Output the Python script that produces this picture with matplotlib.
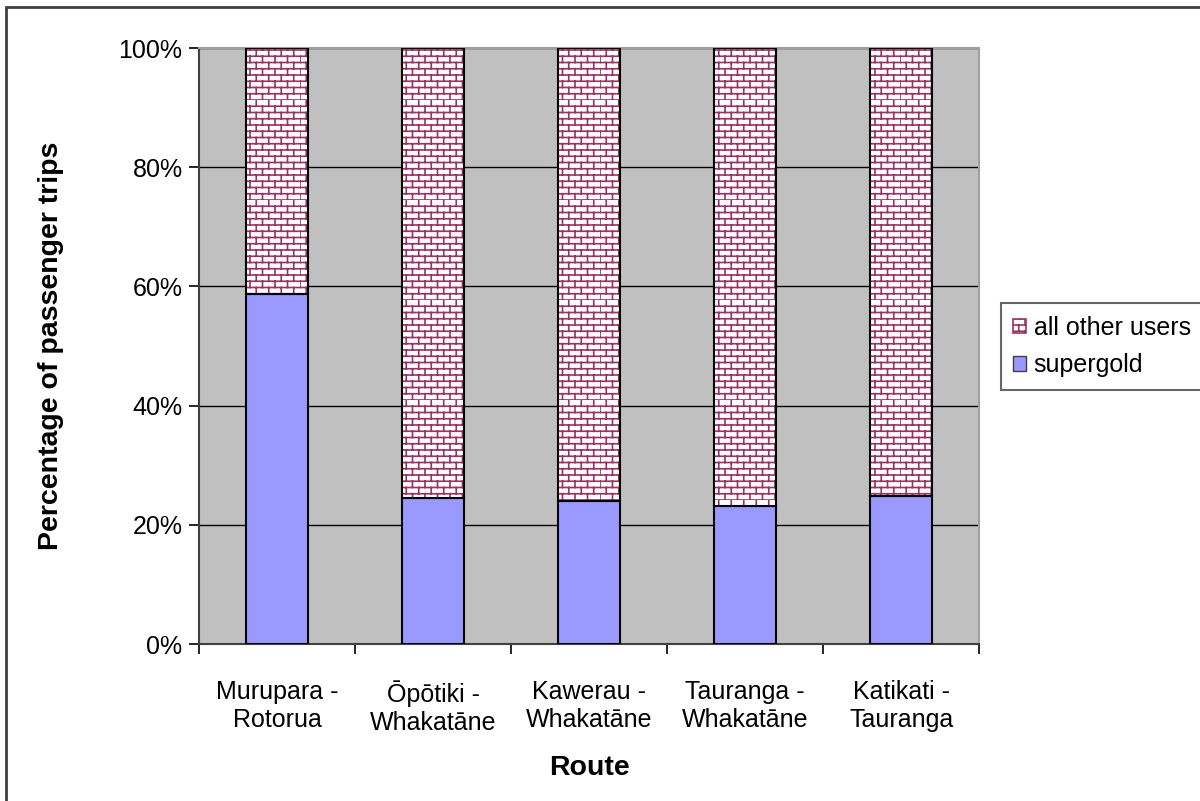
import warnings
import numpy as np
import matplotlib
matplotlib.use("Agg")
import matplotlib.pyplot as plt
import matplotlib.hatch as mhatch
from matplotlib.path import Path
from matplotlib.patches import Patch, Rectangle
from matplotlib.ticker import PercentFormatter, FixedLocator

plt.rcParams['font.family'] = ['Liberation Sans', 'DejaVu Sans']

routes = ["Murupara -\nRotorua", "Ōpōtiki -\nWhakatāne", "Kawerau -\nWhakatāne",
          "Tauranga -\nWhakatāne", "Katikati -\nTauranga"]
supergold = [58.7, 24.5, 24.0, 23.2, 24.8]
other_users = [100 - v for v in supergold]


# brick hatch, like the Excel pattern fill
class BrickHatch(mhatch.HatchPatternBase):
    rows = 16
    cols = 8

    def __init__(self, hatch, density):
        self.on = hatch.count('b') > 0
        self.num_vertices = (self.rows * 2 + self.rows * self.cols * 2) if self.on else 0

    def set_vertices_and_codes(self, vertices, codes):
        k = 0
        for r in range(self.rows):
            y0 = r / self.rows
            y1 = (r + 1) / self.rows
            vertices[k] = (0, y0); vertices[k + 1] = (1, y0)
            codes[k] = Path.MOVETO; codes[k + 1] = Path.LINETO
            k += 2
            shift = 0.5 * (r % 2)
            for c in range(self.cols):
                x = (c + shift) / self.cols
                vertices[k] = (x, y0); vertices[k + 1] = (x, y1)
                codes[k] = Path.MOVETO; codes[k + 1] = Path.LINETO
                k += 2


mhatch._hatch_types.append(BrickHatch)
warnings.filterwarnings("ignore")
plt.rcParams['hatch.linewidth'] = 1.2

fig = plt.figure(figsize=(12, 8.01), dpi=100)
ax = fig.add_axes([0.166, 0.196, 0.650, 0.744])
ax.set_facecolor('#C0C0C0')

x = np.arange(len(routes))
w = 0.40
brick = '#993366'

ax.bar(x, supergold, w, color='#9999FF', edgecolor='black', linewidth=1.5, zorder=3)
ax.bar(x, other_users, w, bottom=supergold, color='white', edgecolor=brick,
       hatch='b', linewidth=0, zorder=3)
ax.bar(x, other_users, w, bottom=supergold, fill=False, edgecolor='black',
       linewidth=1.5, zorder=4)

ax.set_xlim(-0.5, len(routes) - 0.5)
ax.set_ylim(0, 100)
ax.yaxis.set_major_locator(FixedLocator([0, 20, 40, 60, 80, 100]))
ax.yaxis.set_major_formatter(PercentFormatter(decimals=0))
ax.grid(axis='y', color='black', linewidth=1, zorder=1)
ax.set_axisbelow(True)

ax.set_xticks(np.arange(-0.5, len(routes)), labels=[''] * (len(routes) + 1))
ax.set_xticks(x, labels=routes, minor=True)
ax.tick_params(axis='x', which='major', length=7, width=1.2, direction='out')
ax.tick_params(axis='x', which='minor', length=0, pad=26, labelsize=18)
ax.tick_params(axis='y', length=7, width=1.2, direction='out', labelsize=18, pad=5)

for s in ['top', 'right']:
    ax.spines[s].set_color('#A0A0A0')
    ax.spines[s].set_linewidth(1.5)
for s in ['left', 'bottom']:
    ax.spines[s].set_color('#404040')
    ax.spines[s].set_linewidth(1.5)

ax.set_ylabel("Percentage of passenger trips", fontsize=20.5, fontweight='bold', labelpad=39)
ax.set_xlabel("Route", fontsize=20.5, fontweight='bold', labelpad=15)

handles = [Patch(facecolor='white', edgecolor=brick, hatch='b', linewidth=1.2),
           Patch(facecolor='#9999FF', edgecolor='#404040', linewidth=1)]
leg = fig.legend(handles, ["all other users", "supergold"], loc='upper left',
                 bbox_to_anchor=(1001 / 1200, 1 - 303 / 801), fontsize=18,
                 frameon=True, fancybox=False, edgecolor='#404040', handlelength=0.5,
                 handleheight=0.5, handletextpad=0.3, borderpad=0.5, labelspacing=0.55,
                 borderaxespad=0)
leg.get_frame().set_linewidth(1.5)

fig.add_artist(Rectangle((6 / 1200, -0.1), 1.2, 1 - 7 / 801 + 0.1, transform=fig.transFigure,
                         fill=False, edgecolor='#404040', linewidth=2))

fig.savefig("out.png", dpi=100, facecolor='white')
